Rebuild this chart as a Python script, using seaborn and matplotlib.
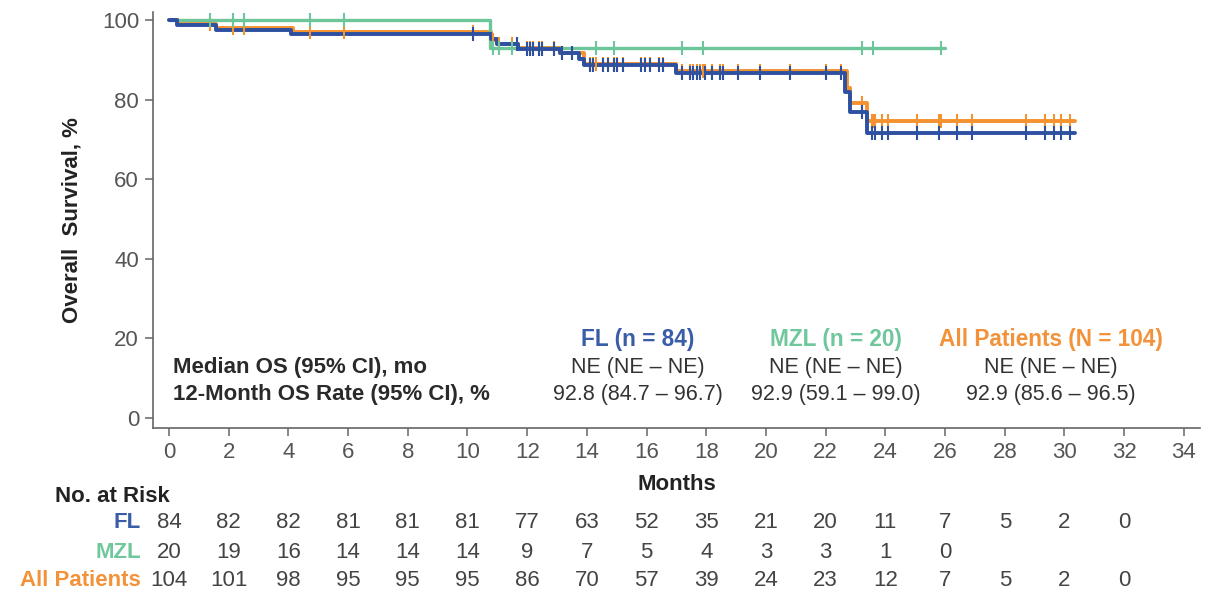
import numpy as np
import pandas as pd
import matplotlib
matplotlib.use("Agg")
import matplotlib.pyplot as plt
import matplotlib.transforms as mtransforms
import seaborn as sns

# ---------------- data ----------------
months_ticks = list(range(0, 35, 2))
surv_ticks = [0, 20, 40, 60, 80, 100]

fl_times = [0, 0.26, 1.56, 4.1, 10.8, 11.0, 11.7, 13.1, 13.75, 13.9, 17.0, 22.65, 22.8, 23.4, 30.35]
fl_surv = [100, 98.8, 97.6, 96.4, 95.2, 93.9, 92.8, 91.6, 90.2, 88.7, 86.6, 82.0, 77.0, 71.5, 71.5]

mzl_times = [0, 10.75, 26.0]
mzl_surv = [100, 92.86, 92.86]

all_times = [0, 0.3, 1.56, 4.15, 10.8, 11.0, 11.7, 13.1, 13.9, 17.0, 22.7, 22.8, 23.4, 30.35]
all_surv = [100, 99.0, 98.0, 97.0, 95.0, 93.9, 92.9, 91.6, 89.0, 87.2, 82.8, 79.1, 74.6, 74.6]

fl_cens = [10.17, 11.65, 12.0, 12.1, 12.2, 12.4, 12.5, 12.9, 13.15, 13.5, 14.1, 14.2, 14.55,
           14.7, 14.9, 15.0, 15.2, 15.8, 15.95, 16.1, 16.4, 16.55, 17.2, 17.45, 17.55, 17.7,
           17.8, 17.95, 18.2, 18.45, 18.55, 19.05, 19.8, 20.8, 22.0, 22.5, 23.2, 23.55, 23.65,
           23.9, 24.1, 25.05, 25.8, 26.4, 26.9, 28.7, 29.35, 29.65, 29.9, 30.2]
mzl_cens = [1.37, 2.13, 2.52, 4.72, 5.86, 10.87, 11.07, 11.5, 14.3, 14.9, 17.2, 17.9, 23.2, 23.6, 25.85]
all_cens = sorted(set(fl_cens + mzl_cens))

risk_labels = ["FL", "MZL", "All Patients"]
risk_fl = [84, 82, 82, 81, 81, 81, 77, 63, 52, 35, 21, 20, 11, 7, 5, 2, 0]
risk_mzl = [20, 19, 16, 14, 14, 14, 9, 7, 5, 4, 3, 3, 1, 0]
risk_all = [104, 101, 98, 95, 95, 95, 86, 70, 57, 39, 24, 23, 12, 7, 5, 2, 0]

group_names = ["FL (n = 84)", "MZL (n = 20)", "All Patients (N = 104)"]
median_text = ["NE (NE \u2013 NE)", "NE (NE \u2013 NE)", "NE (NE \u2013 NE)"]
rate_text = ["92.8 (84.7 \u2013 96.7)", "92.9 (59.1 \u2013 99.0)", "92.9 (85.6 \u2013 96.5)"]

# ---------------- style ----------------
BLUE = "#2D50A0"
GREEN = "#6DC59A"
ORANGE = "#F4922F"
TXT_BLUE = "#3A5DA8"
TXT_GREEN = "#6FC79C"
TXT_ORANGE = "#F2923A"

sns.set_theme(style="ticks")
plt.rcParams["font.family"] = ["Liberation Sans", "DejaVu Sans"]

fig = plt.figure(figsize=(12.07, 5.91), dpi=100)
ax = fig.add_axes([153 / 1207, (591 - 428) / 591, 1047 / 1207, 416 / 591])


def step_df(t, s):
    return pd.DataFrame({"t": t, "s": s})


def cens_df(t_ev, s_ev, cens):
    idx = np.searchsorted(np.asarray(t_ev), np.asarray(cens), side="right") - 1
    return pd.DataFrame({"t": cens, "s": np.asarray(s_ev)[idx]})


series = [
    (all_times, all_surv, all_cens, ORANGE, 2.8),
    (mzl_times, mzl_surv, mzl_cens, GREEN, 2.4),
    (fl_times, fl_surv, fl_cens, BLUE, 2.8),
]
for t, s, c, col, lw in series:
    sns.lineplot(data=step_df(t, s), x="t", y="s", ax=ax, color=col, lw=lw,
                 drawstyle="steps-post", estimator=None, sort=False)
    sns.scatterplot(data=cens_df(t, s, c), x="t", y="s", ax=ax, marker="|",
                    s=95, color=col, linewidth=1.5, zorder=3)

ax.set_xlim(-0.536, 34.54)
ax.set_ylim(-2.5, 102)
ax.set_xticks(months_ticks)
ax.set_yticks(surv_ticks)
ax.set_xlabel("Months", fontsize=16, fontweight="bold", color="#222222", labelpad=8)
ax.set_ylabel("Overall  Survival, %", fontsize=16, fontweight="bold", color="#222222", labelpad=14)
ax.tick_params(axis="both", length=6, width=1.1, color="#666666", labelcolor="#555555",
               labelsize=16, direction="out")
ax.tick_params(axis="x", pad=4)
ax.tick_params(axis="y", pad=4)
for sp in ["top", "right"]:
    ax.spines[sp].set_visible(False)
for sp in ["left", "bottom"]:
    ax.spines[sp].set_color("#666666")
    ax.spines[sp].set_linewidth(1.2)

# summary annotations
ax.text(0.13, 12.8, "Median OS (95% CI), mo", fontsize=16, fontweight="bold",
        color="#2a2a2a", ha="left", va="center")
ax.text(0.13, 6.0, "12-Month OS Rate (95% CI), %", fontsize=16, fontweight="bold",
        color="#2a2a2a", ha="left", va="center")
col_x = [15.71, 22.35, 29.55]
col_colors = [TXT_BLUE, TXT_GREEN, TXT_ORANGE]
for x, name, med, rate, cc in zip(col_x, group_names, median_text, rate_text, col_colors):
    ax.text(x, 19.85, name, fontsize=16.3, fontweight="bold", color=cc, ha="center", va="center")
    ax.text(x, 12.8, med, fontsize=15.5, color="#333333", ha="center", va="center")
    ax.text(x, 6.0, rate, fontsize=15.5, color="#333333", ha="center", va="center")

# risk table
trans = mtransforms.blended_transform_factory(ax.transData, fig.transFigure)
fig.text(55 / 1207, 1 - 497 / 591, "No. at Risk", fontsize=16, fontweight="bold",
         color="#222222", ha="left", va="center")
rows = [risk_fl, risk_mzl, risk_all]
row_y = [522, 552, 581]
for lab, vals, yy, cc in zip(risk_labels, rows, row_y, col_colors):
    fig.text(141 / 1207, 1 - yy / 591, lab, fontsize=16, fontweight="bold", color=cc,
             ha="right", va="center")
    for m, v in zip(months_ticks, vals):
        ax.text(m, 1 - yy / 591, str(v), transform=trans, fontsize=16, color="#444444",
                ha="center", va="center", clip_on=False)

fig.savefig("out.png", dpi=100)
